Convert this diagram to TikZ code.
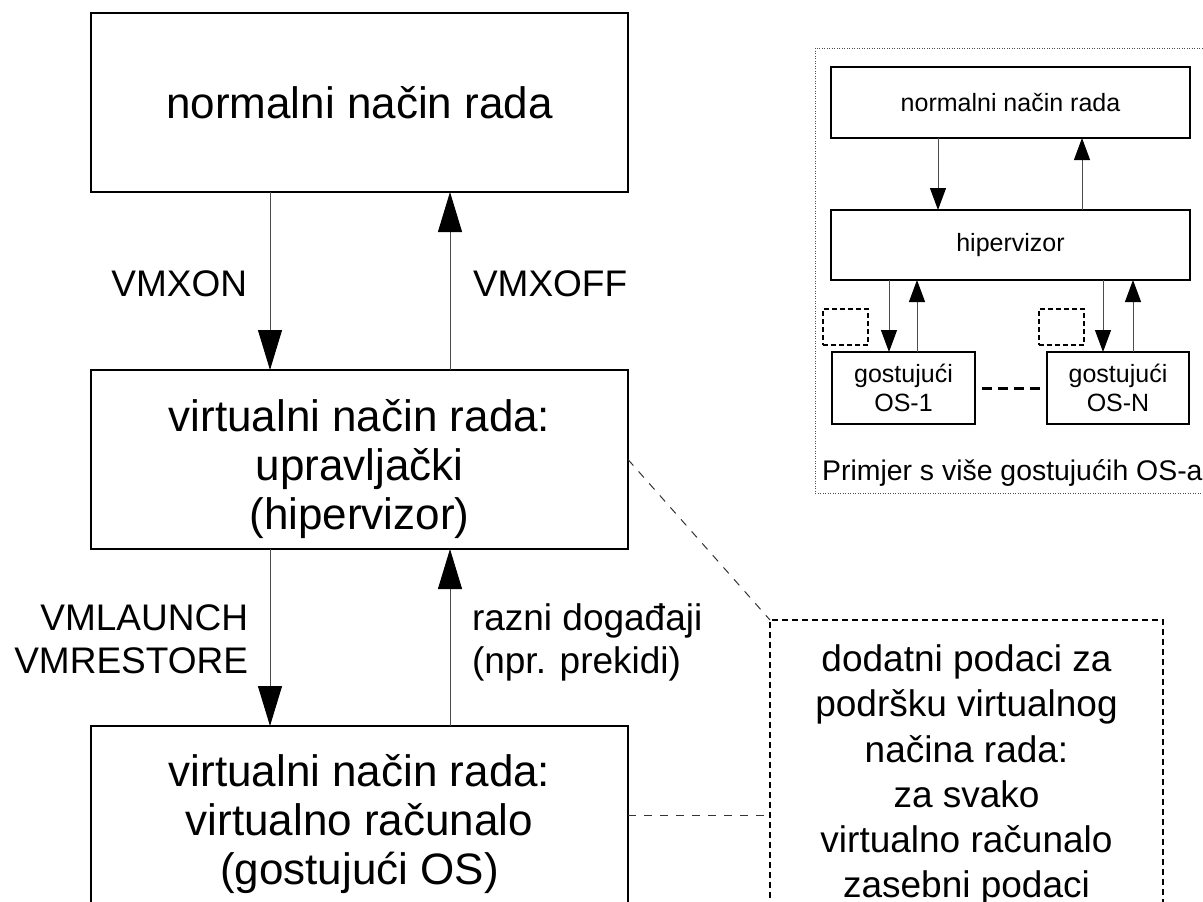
\documentclass[tikz,border=0pt]{standalone}
\usepackage{fontspec}
\setmainfont{Liberation Sans}
\usetikzlibrary{arrows.meta,calc}
\begin{document}
\begin{tikzpicture}[x=1pt,y=-1pt,
  bigbox/.style={draw, line width=2.5pt, minimum width=537pt, minimum height=179pt,
    align=center, inner sep=0pt, outer sep=0pt, font=\fontsize{44}{49}\selectfont},
  mainarr/.style={draw=black!70, line width=1pt, -{Triangle[length=40pt,width=24pt,color=black]}},
  lbl/.style={inner sep=0pt, outer sep=0pt, font=\fontsize{37}{42.5}\selectfont},
  notebox/.style={draw, line width=2.5pt, dash pattern=on 6pt off 4pt, minimum width=393pt,
    minimum height=302pt, align=center, inner sep=0pt, outer sep=0pt, font=\fontsize{37}{45.2}\selectfont},
  link/.style={draw=black!80, line width=1pt, dash pattern=on 8pt off 8pt},
  ibox/.style={draw, line width=2.2pt, align=center, inner sep=0pt, outer sep=0pt,
    font=\fontsize{25}{28.7}\selectfont},
  iarr/.style={draw=black!70, line width=1pt, -{Triangle[length=22pt,width=16pt,color=black]}},
  sq/.style={draw, line width=2pt, dash pattern=on 5pt off 3pt, minimum width=45pt,
    minimum height=36pt, inner sep=0pt, outer sep=0pt},
  frame/.style={draw=black!70, line width=1pt, dash pattern=on 1pt off 1.5pt}
]
\useasboundingbox (0,0) rectangle (1203,902);
\clip (0,0) rectangle (1203,902);

% main column
\node[bigbox] (b1) at (359.5,102.5) {normalni način rada};
\node[bigbox] (b2) at (359.5,459.5) {\rule{0pt}{52pt}virtualni način rada:\\upravljački\\(hipervizor)};
\node[bigbox] (b3) at (359.5,815.5) {\rule{0pt}{50pt}virtualni način rada:\\virtualno računalo\\(gostujući OS)};

\coordinate (d1) at ([xshift=-89.5pt]b1.south);
\coordinate (u1) at ([xshift=90.5pt]b2.north);
\coordinate (d2) at ([xshift=-89.5pt]b2.south);
\coordinate (u2) at ([xshift=90.5pt]b3.north);
\draw[mainarr] (d1) -- (d1 |- b2.north);
\draw[mainarr] (u1) -- (u1 |- b1.south);
\draw[mainarr] (d2) -- (d2 |- b3.north);
\draw[mainarr] (u2) -- (u2 |- b2.south);

\node[lbl, anchor=base east] (l1) at (247,296) {VMXON};
\node[lbl, anchor=base west] (l2) at (473,296) {VMXOFF};
\node[lbl, anchor=north east, align=right] (l3) at (248,605) {VMLAUNCH\\VMRESTORE};
\node[lbl, anchor=north west, align=left] (l4) at (472,604) {razni događaji\\(npr. prekidi)};

% note box
\node[notebox] (note) at (966.5,771) {\rule{0pt}{35pt}dodatni podaci za\\podršku virtualnog\\načina rada:\\za svako\\virtualno računalo\\zasebni podaci};
\draw[link] (b2.east) -- (note.north west);
\draw[link] (b3.east) -- (b3.east -| note.west);

% inset
\draw[frame] (815,48) rectangle (1215,493);
\node[ibox, minimum width=359pt, minimum height=71pt] (ia) at (1010.5,102.5) {normalni način rada};
\node[ibox, minimum width=359pt, minimum height=70pt] (ib) at (1010.5,245) {hipervizor};
\node[ibox, minimum width=143pt, minimum height=72pt] (g1) at (903.5,388) {gostujući\\OS-1};
\node[ibox, minimum width=142pt, minimum height=72pt] (gN) at (1118,388) {gostujući\\OS-N};
\node[sq] (s1) at (845.5,327) {};
\node[sq] (s2) at (1061,327) {};

\coordinate (ad) at ([xshift=-72.5pt]ia.south);
\coordinate (au) at ([xshift=71.5pt]ib.north);
\draw[iarr] (ad) -- (ad |- ib.north);
\draw[iarr] (au) -- (au |- ia.south);

\coordinate (g1d) at ([xshift=-14.5pt]g1.north);
\coordinate (g1u) at ([xshift=13.5pt]g1.north);
\coordinate (gNd) at ([xshift=-15pt]gN.north);
\coordinate (gNu) at ([xshift=15pt]gN.north);
\draw[iarr] (g1d |- ib.south) -- (g1d);
\draw[iarr] (g1u) -- (g1u |- ib.south);
\draw[iarr] (gNd |- ib.south) -- (gNd);
\draw[iarr] (gNu) -- (gNu |- ib.south);

\draw[line width=3pt, dash pattern=on 10pt off 6pt] ([xshift=7pt]g1.east) -- (gN.west);

\node[anchor=base west, inner sep=0pt, font=\fontsize{28.4}{32}\selectfont] (cap) at (822,480) {Primjer s više gostujućih OS-a};
\end{tikzpicture}
\end{document}
